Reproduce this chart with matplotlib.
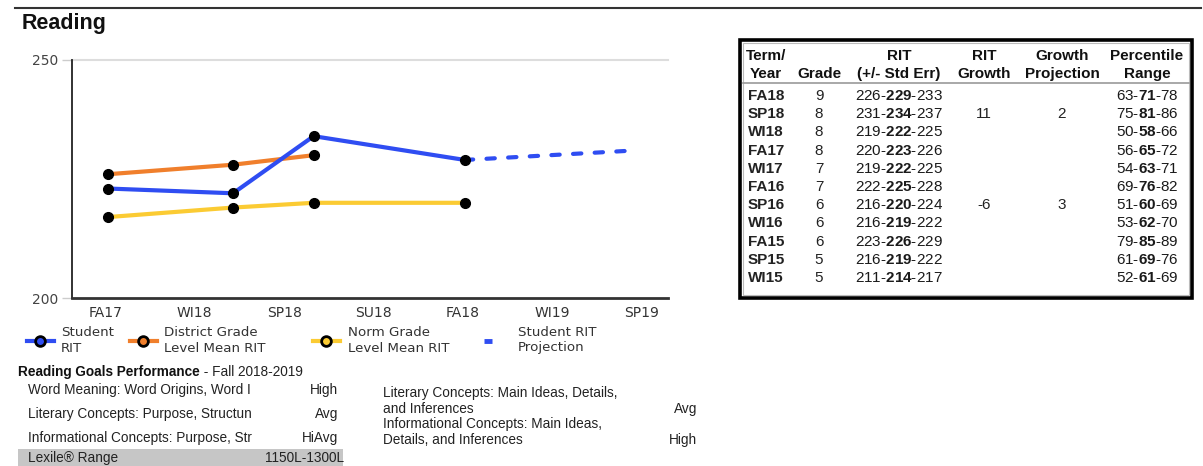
import matplotlib
matplotlib.use("Agg")
import matplotlib.pyplot as plt
from matplotlib.lines import Line2D
from matplotlib.patches import Rectangle

# ---------------- data ----------------
terms = ['FA17', 'WI18', 'SP18', 'SU18', 'FA18', 'WI19', 'SP19']
# test dates expressed on the term axis (0 = FA17 ... 6 = SP19)
student_x = [0.03, 1.43, 2.33, 4.02]
student_rit = [223, 222, 234, 229]
district_x = [0.03, 1.43, 2.33]
district_rit = [226, 228, 230]
norm_x = [0.03, 1.43, 2.33, 4.02]
norm_rit = [217, 219, 220, 220]
proj_x = [4.02, 5.92]
proj_rit = [229, 231]

legend_labels = ['Student\nRIT', 'District Grade\nLevel Mean RIT',
                 'Norm Grade\nLevel Mean RIT', 'Student RIT\nProjection']

table_header1 = ['Term/', '', 'RIT', 'RIT', 'Growth', 'Percentile']
table_header2 = ['Year', 'Grade', '(+/- Std Err)', 'Growth', 'Projection', 'Range']
tbl_term = ['FA18', 'SP18', 'WI18', 'FA17', 'WI17', 'FA16', 'SP16', 'WI16', 'FA15', 'SP15', 'WI15']
tbl_grade = ['9', '8', '8', '8', '7', '7', '6', '6', '6', '5', '5']
tbl_rit_lo = [226, 231, 219, 220, 219, 222, 216, 216, 223, 216, 211]
tbl_rit = [229, 234, 222, 223, 222, 225, 220, 219, 226, 219, 214]
tbl_rit_hi = [233, 237, 225, 226, 225, 228, 224, 222, 229, 222, 217]
tbl_growth = ['', '11', '', '', '', '', '-6', '', '', '', '']
tbl_proj = ['', '2', '', '', '', '', '3', '', '', '', '']
tbl_pct_lo = [63, 75, 50, 56, 54, 69, 51, 53, 79, 61, 52]
tbl_pct = [71, 81, 58, 65, 63, 76, 60, 62, 85, 69, 61]
tbl_pct_hi = [78, 86, 66, 72, 71, 82, 69, 70, 89, 76, 69]

goals_left = ['Word Meaning: Word Origins, Word I',
              'Literary Concepts: Purpose, Structun',
              'Informational Concepts: Purpose, Str']
goals_left_level = ['High', 'Avg', 'HiAvg']
goals_right = [('Literary Concepts: Main Ideas, Details,', 'and Inferences'),
               ('Informational Concepts: Main Ideas,', 'Details, and Inferences')]
goals_right_level = ['Avg', 'High']
lexile_label = 'Lexile® Range'
lexile_range = '1150L-1300L'

# ---------------- style ----------------
BLUE = '#2f4df2'
ORANGE = '#f07f2c'
YELLOW = '#fbcb33'
ARIAL = ['Liberation Sans', 'DejaVu Sans']
LUCIDA = ['DejaVu Sans']
plt.rcParams['font.family'] = ARIAL
plt.rcParams['mathtext.fontset'] = 'custom'
plt.rcParams['mathtext.rm'] = 'Liberation Sans'
plt.rcParams['mathtext.bf'] = 'Liberation Sans:bold'
plt.rcParams['mathtext.default'] = 'rm'

W, H = 1203, 466
fig = plt.figure(figsize=(W / 100, H / 100), dpi=100)


def fx(px):
    return px / W


def fy(py):
    return 1 - py / H


# top rule and title
fig.add_artist(Line2D([fx(15), fx(1201)], [fy(8), fy(8)], color='#333333', lw=1.5))
fig.text(fx(22), fy(23), 'Reading', fontsize=15.5, weight='bold', va='center', ha='left',
         color='#111111')

# ---------------- chart ----------------
ax = fig.add_axes([fx(72), fy(298), fx(668 - 72), (298 - 60) / H])
ax.plot(district_x, district_rit, color=ORANGE, lw=3, solid_capstyle='butt', zorder=2)
ax.plot(norm_x, norm_rit, color=YELLOW, lw=3, solid_capstyle='butt', zorder=2)
ax.plot(student_x, student_rit, color=BLUE, lw=3, solid_capstyle='butt', zorder=3)
ax.plot(proj_x, proj_rit, color=BLUE, lw=3, linestyle=(0, (2, 3.2)),
        dash_capstyle='round', zorder=3)
for xs, ys in [(district_x, district_rit), (norm_x, norm_rit), (student_x, student_rit)]:
    ax.plot(xs, ys, linestyle='none', marker='o', markersize=7, color='black', zorder=4)

ax.set_xlim(-0.37, 6.29)
ax.set_ylim(200, 250)
ax.set_yticks([200, 250])
ax.set_xticks(range(len(terms)))
ax.set_xticklabels(terms)
for sp in ['top', 'right']:
    ax.spines[sp].set_visible(False)
ax.spines['left'].set_color('#222222')
ax.spines['left'].set_linewidth(1.3)
ax.spines['bottom'].set_color('#333333')
ax.spines['bottom'].set_linewidth(2)
ax.axhline(250, color='#dddddd', lw=1.5, zorder=0, clip_on=False)
ax.tick_params(axis='y', length=7, color='#cccccc', width=1, labelsize=10,
               labelcolor='#444444', pad=3)
ax.tick_params(axis='x', length=0, labelsize=10, labelcolor='#333333', pad=6)
for lab in ax.get_xticklabels() + ax.get_yticklabels():
    lab.set_fontfamily(LUCIDA)

handles = [
    Line2D([], [], color=BLUE, lw=3, marker='o', markersize=7, markerfacecolor=BLUE,
           markeredgecolor='black', markeredgewidth=2),
    Line2D([], [], color=ORANGE, lw=3, marker='o', markersize=7, markerfacecolor=ORANGE,
           markeredgecolor='black', markeredgewidth=2),
    Line2D([], [], color=YELLOW, lw=3, marker='o', markersize=7, markerfacecolor=YELLOW,
           markeredgecolor='black', markeredgewidth=2),
    Line2D([], [], color=BLUE, linestyle='none', marker='_', markersize=6,
           markeredgewidth=3.5),
]
LEG_FS = 9.6
em_px = LEG_FS * 100 / 72
legend_text_x = [61, 164, 348, 518]
legend_handle_x = [27, 130, 313, 475]
for hnd, lab, hx, tx in zip(handles, legend_labels, legend_handle_x, legend_text_x):
    pad = (tx - hx - 2.0 * em_px) / em_px
    leg = fig.legend([hnd], [lab], loc='upper left', bbox_to_anchor=(fx(hx), fy(326)),
                     frameon=False, handlelength=2.0, handletextpad=pad,
                     borderaxespad=0, borderpad=0,
                     prop={'size': LEG_FS, 'family': LUCIDA})
    for t in leg.get_texts():
        t.set_color('#333333')
        t.set_linespacing(1.25)

# ---------------- goals section ----------------
GFS = 9.8
gt = fig.text(fx(18), fy(372), 'Reading Goals Performance', fontsize=GFS, weight='bold',
              va='center', ha='left', color='#111111')
fig.add_artist(plt.Annotation(' - Fall 2018-2019', xy=(1, 0), xycoords=gt, fontsize=GFS,
                              va='bottom', ha='left', color='#222222',
                              annotation_clip=False))

row_y = [390, 414, 438]
for txt, lvl, yy in zip(goals_left, goals_left_level, row_y):
    fig.text(fx(28), fy(yy), txt, fontsize=GFS, va='center', ha='left', color='#222222')
    fig.text(fx(338), fy(yy), lvl, fontsize=GFS, va='center', ha='right', color='#222222')

fig.add_artist(Rectangle((fx(18), fy(466)), fx(343 - 18), (466 - 449) / H,
                         transform=fig.transFigure, facecolor='#c6c6c6', edgecolor='none'))
fig.text(fx(28), fy(458), lexile_label, fontsize=GFS, va='center', ha='left', color='#222222')
fig.text(fx(344), fy(458), lexile_range, fontsize=GFS, va='center', ha='right',
         color='#222222')

right_y = [(393, 409), (424, 440)]
for (l1, l2), lvl, (y1, y2) in zip(goals_right, goals_right_level, right_y):
    fig.text(fx(383), fy(y1), l1, fontsize=GFS, va='center', ha='left', color='#222222')
    fig.text(fx(383), fy(y2), l2, fontsize=GFS, va='center', ha='left', color='#222222')
    fig.text(fx(697), fy(y2), lvl, fontsize=GFS, va='center', ha='right', color='#222222')

# ---------------- table ----------------
fig.add_artist(Rectangle((fx(740), fy(298)), fx(1192 - 740), (298 - 40) / H,
                         transform=fig.transFigure, fill=False, edgecolor='black', lw=2.6))
fig.add_artist(Rectangle((fx(743), fy(295)), fx(1189 - 743), (295 - 43) / H,
                         transform=fig.transFigure, fill=False, edgecolor='#bbbbbb', lw=0.8))
fig.add_artist(Line2D([fx(743), fx(1189)], [fy(83), fy(83)], color='#999999', lw=1.2))

col_x = [766, 819, 899, 984, 1062, 1147]
FS = 11
for cx, h1, h2 in zip(col_x, table_header1, table_header2):
    if h1:
        fig.text(fx(cx), fy(56), h1, fontsize=FS, weight='bold', ha='center', va='center',
                 color='#111111')
    fig.text(fx(cx), fy(74), h2, fontsize=FS, weight='bold', ha='center', va='center',
             color='#111111')


def ranged_text(cx, yy, lo, mid, hi):
    s = f'{lo}-$\\mathbf{{{mid}}}$-{hi}'
    fig.text(fx(cx), yy, s, fontsize=FS, ha='center', va='center', color='#1a1a1a')


for i in range(len(tbl_term)):
    yy = fy(96 + i * 18.2)
    fig.text(fx(748), yy, tbl_term[i], fontsize=FS, weight='bold', ha='left', va='center',
             color='#222222')
    fig.text(fx(col_x[1]), yy, tbl_grade[i], fontsize=FS, ha='center', va='center',
             color='#222222')
    ranged_text(col_x[2], yy, tbl_rit_lo[i], tbl_rit[i], tbl_rit_hi[i])
    ranged_text(col_x[5], yy, tbl_pct_lo[i], tbl_pct[i], tbl_pct_hi[i])
    if tbl_growth[i]:
        fig.text(fx(col_x[3]), yy, tbl_growth[i], fontsize=FS, ha='center', va='center',
                 color='#222222')
    if tbl_proj[i]:
        fig.text(fx(col_x[4]), yy, tbl_proj[i], fontsize=FS, ha='center', va='center',
                 color='#222222')

fig.savefig('out.png', dpi=100)
